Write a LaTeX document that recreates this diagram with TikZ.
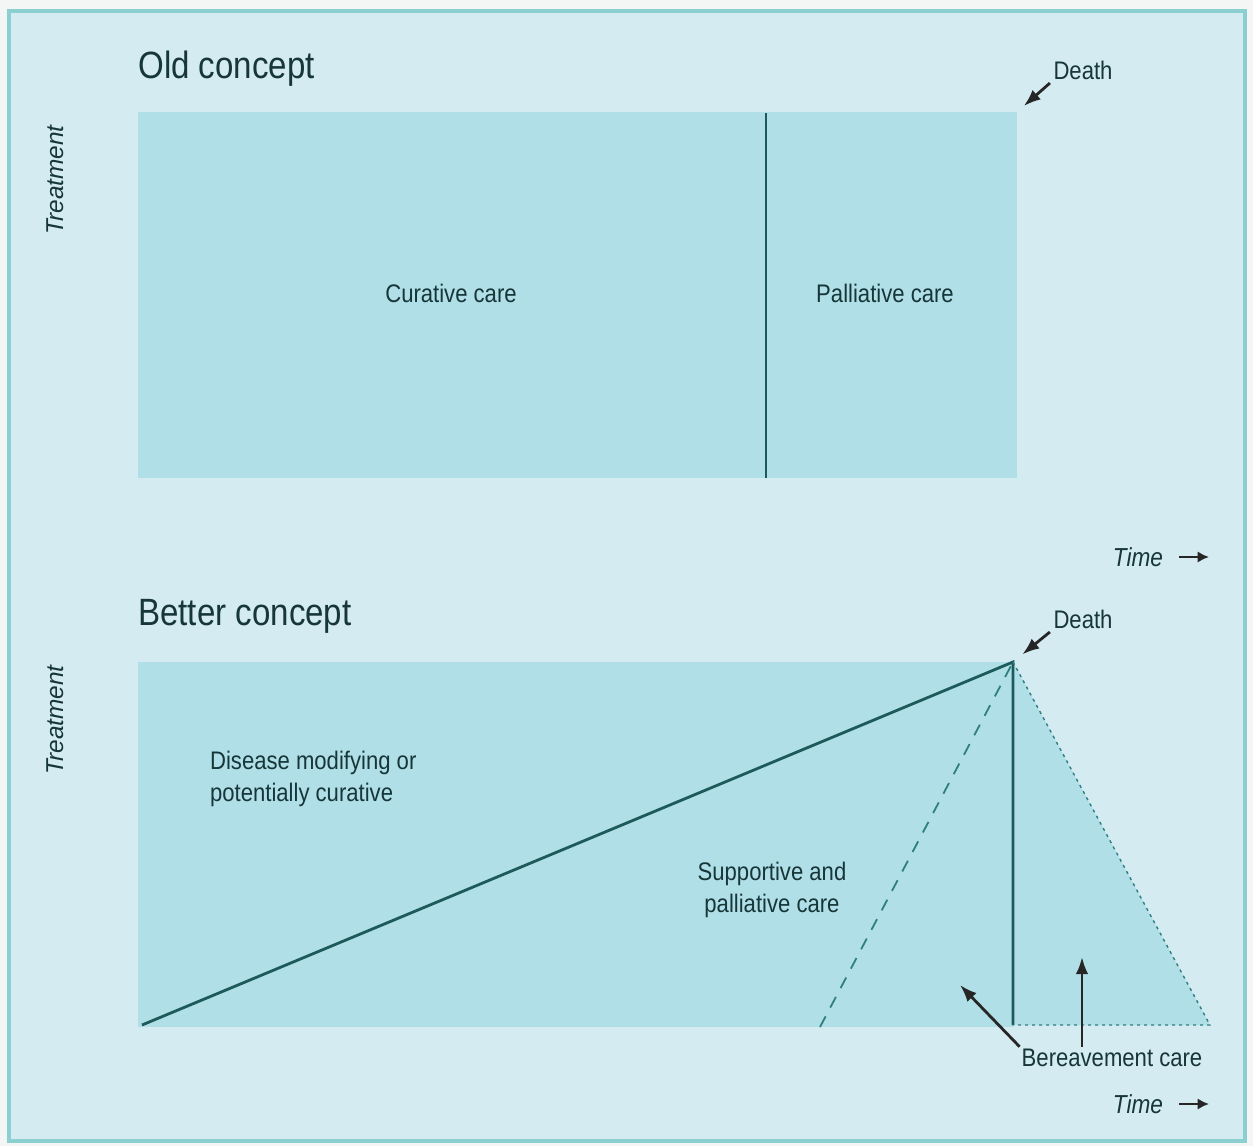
\documentclass[tikz,border=0pt]{standalone}
\usepackage{fontspec}
\setmainfont{Liberation Sans}
\usetikzlibrary{arrows.meta}

\definecolor{pagegrey}{HTML}{F4F5F5}
\definecolor{bgblue}{HTML}{D3EBF1}
\definecolor{boxblue}{HTML}{B1DFE8}
\definecolor{frameteal}{HTML}{8AD0D0}
\definecolor{inkteal}{HTML}{1D5A5C}
\definecolor{dashteal}{HTML}{2F7F80}
\definecolor{txtdark}{HTML}{163638}

\begin{document}
\begin{tikzpicture}[
x=0.5pt, y=-0.5pt,
title/.style={font=\fontsize{19}{22}\selectfont, text=txtdark, xscale=0.87, anchor=west, inner sep=0pt},
lbl/.style={font=\fontsize{12.7}{16}\selectfont, text=txtdark, xscale=0.87, align=center, inner sep=1pt},
axis/.style={font=\fontsize{13}{16}\selectfont\itshape, text=txtdark, xscale=0.87, inner sep=1pt},
vaxis/.style={font=\fontsize{12.2}{16}\selectfont\itshape, text=txtdark, rotate=90, inner sep=1pt},
line/.style={-{Latex[length=3mm, width=2.2mm]}, line width=1.4pt, draw=black!85},
tick/.style={-{Latex[length=2mm, width=2mm]}, line width=1.3pt, draw=black!85},
edge/.style={draw=inkteal, line width=1.4pt}
]
\useasboundingbox (0,0) rectangle (1253,1146);

% page and frame
\fill[pagegrey] (0,0) rectangle (1253,1146);
\draw[frameteal, line width=2pt, fill=bgblue] (9,11) rectangle (1245,1141);

% old concept
\fill[boxblue] (138,112) rectangle (1017,478);
\coordinate (oldend) at (1017,112);
\coordinate (divtop) at (766,113);
\coordinate (divfoot) at (766,478);
\draw[edge] (divtop) -- (divfoot);

\node[title] (oldtitle) at (138,69) {Old concept};
\node[vaxis] (treat1) at (55,180) {Treatment};
\node[lbl] (curative) at (451,293) {Curative care};
\node[lbl] (palliative) at (885,293) {Palliative care};
\node[lbl] (death1) at (1083,70) {Death};
\node[axis] (time1) at (1138,557) {Time};
\coordinate (time1end) at (1209,557);

\draw[line, shorten <=1pt, shorten >=4.5pt] (death1.south west) -- (oldend);
\draw[tick, shorten <=7pt] (time1) -- (time1end);

% better concept
\fill[boxblue] (138,662) rectangle (1013,1027);
\coordinate (apex) at (1013,662);
\coordinate (start) at (142,1025);
\coordinate (apexfoot) at (1013,1025);
\coordinate (dashfoot) at (820,1027);
\coordinate (trifoot) at (1210,1025);
\fill[boxblue] (apex) -- (trifoot) -- (apexfoot) -- cycle;

\draw[edge] (start) -- (apex) -- (apexfoot);
\draw[dashteal, line width=0.9pt, dash pattern=on 6pt off 5pt] (dashfoot) -- (apex);
\draw[dashteal, line width=0.7pt, dash pattern=on 1.5pt off 2pt] (apex) -- (trifoot) -- (apexfoot);

\node[title] (bettertitle) at (138,616) {Better concept};
\node[vaxis] (treat2) at (55,720) {Treatment};
\node[lbl, anchor=west, align=left] (disease) at (208,779) {Disease modifying or\\potentially curative};
\node[lbl] (supportive) at (772,890) {Supportive and\\palliative care};
\node[lbl] (death2) at (1083,619) {Death};
\node[lbl] (bereave) at (1112,1058) {Bereavement care};
\node[axis] (time2) at (1138,1104) {Time};
\coordinate (time2end) at (1209,1104);
\coordinate (supparrow) at (960,985);
\coordinate (berearrow) at (1082,957);

\draw[line, shorten <=1pt, shorten >=6pt] (death2.south west) -- (apex);
\draw[line] (bereave.north west) -- (supparrow);
\draw[line] (bereave.north -| berearrow) -- (berearrow);
\draw[tick, shorten <=7pt] (time2) -- (time2end);

\end{tikzpicture}
\end{document}
